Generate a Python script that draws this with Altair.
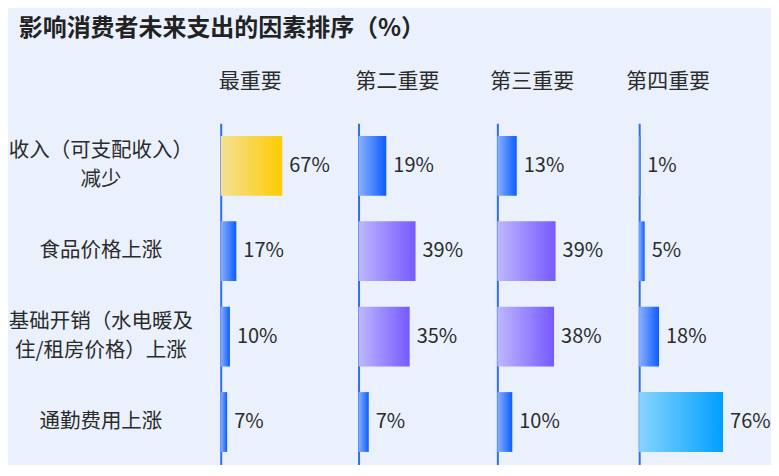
import altair as alt
import pandas as pd

categories = ["收入（可支配收入）\n减少", "食品价格上涨", "基础开销（水电暖及\n住/租房价格）上涨", "通勤费用上涨"]
ranks = ["最重要", "第二重要", "第三重要", "第四重要"]
most = [67, 17, 10, 7]
second = [19, 39, 35, 7]
third = [13, 39, 38, 10]
fourth = [1, 5, 18, 76]
tone_most = ["gold", "blue", "blue", "blue"]
tone_second = ["blue", "violet", "violet", "blue"]
tone_third = ["blue", "violet", "violet", "blue"]
tone_fourth = ["blue", "blue", "blue", "sky"]

series = [most, second, third, fourth]
tones = [tone_most, tone_second, tone_third, tone_fourth]

FONT = "Noto Sans CJK SC"
TEXT = "#2b2b2b"
AXIS = "#2F6FE8"
BG = "#EAF1FD"

gradients = {
    "gold": ("#F3E196", "#FFCB00"),
    "blue": ("#8AB0FF", "#0B5CFF"),
    "violet": ("#BDB7FF", "#7759FF"),
    "sky": ("#88D4FF", "#009FFF"),
}

panel_widths = [138, 139, 142, 126]
domains = [150, 95, 95, 114]
title_dx = [-2, -3, -7, -13]
H = 342
LABEL_SIZE = 20.5
LINE_H = 29


def grad(c0, c1):
    return alt.Gradient(
        gradient="linear", x1=0, x2=1, y1=0, y2=0,
        stops=[alt.GradientStop(color=c0, offset=0), alt.GradientStop(color=c1, offset=1)],
    )


multi = "indexof(datum.category, '\\n') >= 0"

panels = []
for i, rank in enumerate(ranks):
    df = pd.DataFrame({
        "category": categories,
        "value": series[i],
        "tone": tones[i],
        "label": [f"{v}%" for v in series[i]],
    })
    y = alt.Y(
        "category:N", sort=categories,
        scale=alt.Scale(paddingInner=0.3, paddingOuter=0.15),
        axis=alt.Axis(labels=False, ticks=False, title=None, grid=False,
                      domain=True, domainColor=AXIS, domainWidth=2),
    )
    x = alt.X("value:Q", scale=alt.Scale(domain=[0, domains[i]]), axis=None)
    base = alt.Chart(df)
    layers = []
    for t in sorted(set(tones[i])):
        c0, c1 = gradients[t]
        layers.append(
            base.transform_filter(alt.datum.tone == t)
            .mark_bar(color=grad(c0, c1))
            .encode(x=x, y=y)
        )
    layers.append(
        base.mark_text(align="left", baseline="middle", dx=7, fontSize=20,
                       color=TEXT, font=FONT)
        .encode(x=x, y=y, text="label:N")
    )
    if i == 0:
        layers.append(
            base.transform_filter("!(" + multi + ")")
            .mark_text(align="center", baseline="middle",
                       fontSize=LABEL_SIZE, color=TEXT, font=FONT)
            .encode(x=alt.value(-120), y=y, text="category:N")
        )
        layers.append(
            base.transform_filter(multi)
            .mark_text(align="center", baseline="middle", lineBreak="\n",
                       fontSize=LABEL_SIZE, lineHeight=LINE_H, dy=-LINE_H / 2,
                       color=TEXT, font=FONT)
            .encode(x=alt.value(-120), y=y, text="category:N")
        )
    panel = alt.layer(*layers).properties(
        width=panel_widths[i], height=H,
        title=alt.TitleParams(text=rank, anchor="start", frame="group", fontSize=21,
                              fontWeight="normal", color=TEXT, font=FONT,
                              offset=31, dx=title_dx[i]),
    )
    panels.append(panel)

chart = alt.hconcat(*panels, spacing=0, bounds="flush").properties(
    title=alt.TitleParams(text="影响消费者未来支出的因素排序（%）", anchor="start",
                          frame="bounds", fontSize=24, fontWeight="bold",
                          color="#222222", font=FONT, dx=10, offset=30),
    padding={"left": 0, "top": 9, "right": 0, "bottom": 0},
    background=BG,
).configure(font=FONT).configure_view(strokeWidth=0, stroke="transparent")

chart.save("out.html", embed_options={"renderer": "svg", "actions": False})
